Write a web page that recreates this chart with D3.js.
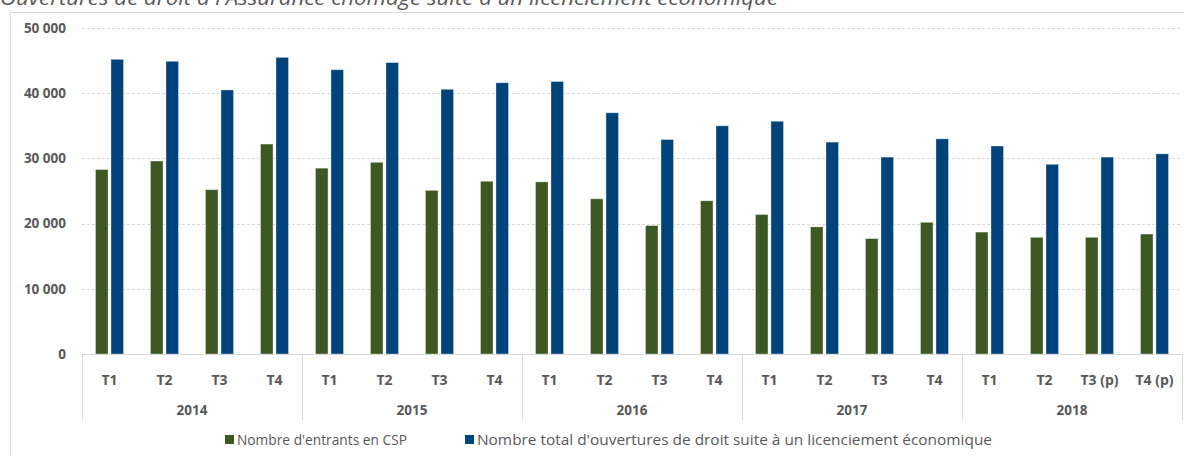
<!DOCTYPE html>
<html>
<head>
<meta charset="utf-8">
<script src="https://cdn.jsdelivr.net/npm/d3@7"></script>
<style>
  body { margin: 0; background: #fff; }
  text { font-family: "Open Sans", "Noto Sans", sans-serif; fill: #595959; }
</style>
</head>
<body>
<div id="chart"></div>
<script>
(function () {
  'use strict';

  var years = ['2014', '2015', '2016', '2017', '2018'];
  var quarters = [
    'T1', 'T2', 'T3', 'T4',
    'T1', 'T2', 'T3', 'T4',
    'T1', 'T2', 'T3', 'T4',
    'T1', 'T2', 'T3', 'T4',
    'T1', 'T2', 'T3 (p)', 'T4 (p)'
  ];
  var entrantsCSP = [
    28300, 29600, 25200, 32200,
    28500, 29400, 25100, 26500,
    26400, 23800, 19700, 23500,
    21400, 19500, 17700, 20200,
    18700, 17900, 17900, 18400
  ];
  var totalOuvertures = [
    45200, 44900, 40500, 45500,
    43600, 44700, 40600, 41600,
    41800, 37000, 32900, 35000,
    35700, 32500, 30200, 33000,
    31900, 29100, 30200, 30700
  ];
  var yTicks = [0, 10000, 20000, 30000, 40000, 50000];
  var seriesNames = ["Nombre d'entrants en CSP", "Nombre total d'ouvertures de droit suite à un licenciement économique"];
  var colours = ['#3c5823', '#00427a'];
  var title = "Ouvertures de droit à l'Assurance chômage suite à un licenciement économique";

  var width = 1184, height = 456;
  var left = 82, right = 1182, top = 28, bottom = 354;

  var svg = d3.select('#chart').append('svg')
    .attr('width', width)
    .attr('height', height);

  // frame
  svg.append('path')
    .attr('d', 'M10.5,' + height + 'V12.5H' + width)
    .attr('fill', 'none')
    .attr('stroke', '#d9d9d9');

  // title, cut at the top edge like the original
  svg.append('text')
    .attr('x', 0)
    .attr('y', 5)
    .attr('font-size', 20)
    .attr('font-style', 'italic')
    .attr('textLength', 778)
    .attr('lengthAdjust', 'spacingAndGlyphs')
    .text(title);

  var fr = d3.formatLocale({decimal: ',', thousands: '\u00a0', grouping: [3], currency: ['', '€']});
  var fmt = fr.format(',d');

  var idx = d3.range(quarters.length);
  var x0 = d3.scaleBand().domain(idx).range([left, right]);
  var x1 = d3.scaleBand().domain([0, 1]).range([0, x0.bandwidth()])
    .paddingInner(0.19).paddingOuter(0.87);
  var y = d3.scaleLinear().domain([0, 50000]).range([bottom, top]);

  // gridlines
  svg.append('g').selectAll('line')
    .data(yTicks.slice(1))
    .join('line')
    .attr('x1', left).attr('x2', right)
    .attr('y1', function (d) { return Math.round(y(d)) + 0.5; })
    .attr('y2', function (d) { return Math.round(y(d)) + 0.5; })
    .attr('stroke', '#d9d9d9')
    .attr('stroke-dasharray', '3,2');

  // y axis labels
  var yAxis = d3.axisLeft(y).tickValues(yTicks).tickFormat(fmt).tickSize(0).tickPadding(0);
  var gy = svg.append('g')
    .attr('transform', 'translate(66,0)')
    .call(yAxis);
  gy.select('.domain').remove();
  gy.selectAll('text')
    .attr('font-size', 13.5)
    .attr('font-weight', 'bold')
    .attr('fill', '#595959');

  // bars
  var series = [entrantsCSP, totalOuvertures];
  series.forEach(function (vals, s) {
    svg.append('g').selectAll('rect')
      .data(vals)
      .join('rect')
      .attr('x', function (d, i) { return x0(i) + x1(s); })
      .attr('width', x1.bandwidth())
      .attr('y', function (d) { return y(d); })
      .attr('height', function (d) { return y(0) - y(d); })
      .attr('fill', colours[s])
      .attr('stroke', '#ffffff')
      .attr('stroke-opacity', 0.45)
      .attr('stroke-width', 0.8);
  });

  // x axis line
  svg.append('line')
    .attr('x1', left).attr('x2', right)
    .attr('y1', bottom + 0.5).attr('y2', bottom + 0.5)
    .attr('stroke', '#d9d9d9');

  // year separators
  var sepX = d3.range(0, quarters.length + 1, 4).map(function (i) {
    return i < quarters.length ? x0(i) : right;
  });
  svg.append('g').selectAll('line')
    .data(sepX)
    .join('line')
    .attr('x1', function (d) { return Math.round(d) + 0.5; })
    .attr('x2', function (d) { return Math.round(d) + 0.5; })
    .attr('y1', bottom).attr('y2', 420)
    .attr('stroke', '#d9d9d9');

  // quarter labels
  svg.append('g').selectAll('text')
    .data(quarters)
    .join('text')
    .attr('x', function (d, i) { return x0(i) + x0.bandwidth() / 2; })
    .attr('y', 385)
    .attr('text-anchor', 'middle')
    .attr('font-size', 14)
    .attr('font-weight', 'bold')
    .text(function (d) { return d; });

  // year labels
  svg.append('g').selectAll('text')
    .data(years)
    .join('text')
    .attr('x', function (d, i) { return x0(i * 4) + x0.bandwidth() * 2; })
    .attr('y', 415)
    .attr('text-anchor', 'middle')
    .attr('font-size', 13.5)
    .attr('font-weight', 'bold')
    .text(function (d) { return d; });

  // legend
  var legendX = [225, 465];
  var legendLen = [170, 515];
  var lg = svg.append('g').selectAll('g')
    .data(seriesNames)
    .join('g')
    .attr('transform', function (d, i) { return 'translate(' + legendX[i] + ',435)'; });
  lg.append('rect')
    .attr('width', 9).attr('height', 9)
    .attr('fill', function (d, i) { return colours[i]; });
  lg.append('text')
    .attr('x', 12)
    .attr('y', 9.5)
    .attr('font-size', 14.5)
    .attr('textLength', function (d, i) { return legendLen[i]; })
    .attr('lengthAdjust', 'spacingAndGlyphs')
    .text(function (d) { return d; });
}());
</script>
</body>
</html>
